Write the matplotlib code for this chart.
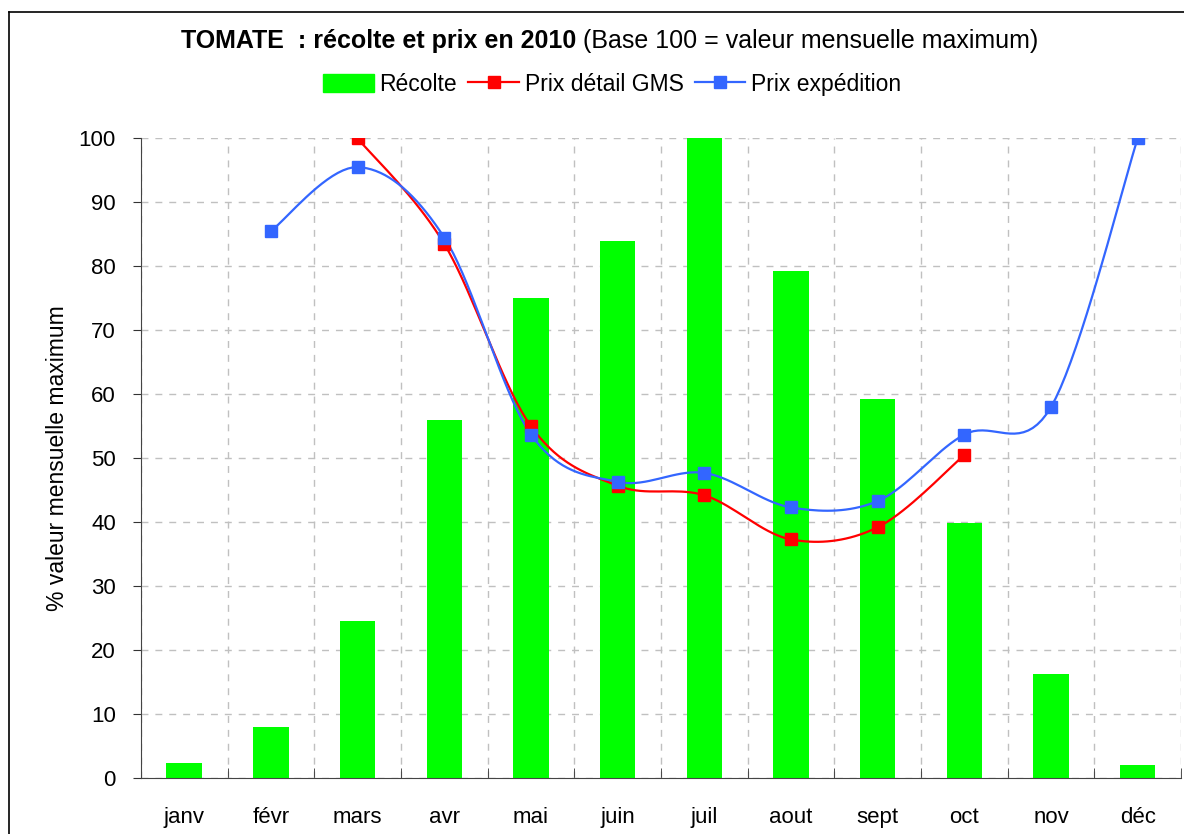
import numpy as np
import matplotlib
matplotlib.use("Agg")
import matplotlib.pyplot as plt
from matplotlib.patches import Patch
from matplotlib.lines import Line2D

plt.rcParams['font.family'] = ['Liberation Sans', 'DejaVu Sans']

# données
mois = ['janv', 'févr', 'mars', 'avr', 'mai', 'juin', 'juil', 'aout', 'sept', 'oct', 'nov', 'déc']
recolte = [2.3, 8.0, 24.5, 56.0, 75.0, 84.0, 100.0, 79.2, 59.2, 39.8, 16.3, 2.0]
prix_gms = [None, None, 100.0, 83.5, 55.0, 45.7, 44.2, 37.3, 39.2, 50.5, None, None]
prix_exp = [None, 85.5, 95.5, 84.5, 53.7, 46.3, 47.7, 42.3, 43.3, 53.7, 58.0, 100.0]

vert = '#00ff00'
rouge = '#ff0000'
bleu = '#3366ff'


def lisse(xs, ys, n=20):
    # courbe lissée type Excel (Catmull-Rom) entre les points
    xs = np.asarray(xs, float)
    ys = np.asarray(ys, float)
    px, py = [], []
    m = len(xs)
    for i in range(m - 1):
        x0, y0 = (xs[i - 1], ys[i - 1]) if i > 0 else (xs[i], ys[i])
        x3, y3 = (xs[i + 2], ys[i + 2]) if i + 2 < m else (xs[i + 1], ys[i + 1])
        x1, y1 = xs[i], ys[i]
        x2, y2 = xs[i + 1], ys[i + 1]
        c1x, c1y = x1 + (x2 - x0) / 6, y1 + (y2 - y0) / 6
        c2x, c2y = x2 - (x3 - x1) / 6, y2 - (y3 - y1) / 6
        t = np.linspace(0, 1, n)
        bx = (1-t)**3*x1 + 3*(1-t)**2*t*c1x + 3*(1-t)*t**2*c2x + t**3*x2
        by = (1-t)**3*y1 + 3*(1-t)**2*t*c1y + 3*(1-t)*t**2*c2y + t**3*y2
        px.extend(bx)
        py.extend(by)
    return px, py


fig = plt.figure(figsize=(11.84, 8.34), dpi=100)
ax = fig.add_axes([0.119, 0.0671, 0.8785, 0.767])

x = np.arange(len(mois))
ax.bar(x, recolte, width=0.41, color=vert, zorder=2)

for serie, col in [(prix_gms, rouge), (prix_exp, bleu)]:
    xi = [i for i, v in enumerate(serie) if v is not None]
    yi = [v for v in serie if v is not None]
    sx, sy = lisse(xi, yi)
    ax.plot(sx, sy, color=col, lw=1.6, zorder=3)
    ax.plot(xi, yi, ls='none', marker='s', ms=8, color=col, zorder=4)

ax.set_xlim(-0.5, len(mois) - 0.5)
ax.set_ylim(0, 100)
ax.set_yticks(range(0, 101, 10))
ax.set_xticks(x)
ax.set_xticklabels(mois, fontsize=16)
ax.set_xticks(np.arange(-0.5, len(mois), 1), minor=True)
ax.tick_params(axis='x', which='major', length=0, pad=21)
ax.tick_params(axis='x', which='minor', length=7, direction='in', color='#333333')
ax.tick_params(axis='y', labelsize=16, length=6, pad=12, color='#333333')
ax.grid(axis='y', ls=(0, (5, 5)), color='#c0c0c0', lw=1, zorder=0)
ax.grid(axis='x', which='minor', ls=(0, (5, 5)), color='#c0c0c0', lw=1, zorder=0)
ax.set_axisbelow(True)
for s in ['top', 'right']:
    ax.spines[s].set_visible(False)
ax.spines['left'].set_color('#444444')
ax.spines['bottom'].set_color('#444444')
ax.set_ylabel('% valeur mensuelle maximum', fontsize=16.5)
ax.yaxis.set_label_coords(-0.069, 0.5)

# titre (partie grasse + partie normale, centrées ensemble)
t1 = fig.text(0, 0.951, 'TOMATE  : récolte et prix en 2010', fontsize=18,
              fontweight='bold', ha='left', va='center')
t2 = fig.text(0, 0.951, ' (Base 100 = valeur mensuelle maximum)', fontsize=18,
              ha='left', va='center')
fig.canvas.draw()
w1 = t1.get_window_extent().width / (fig.dpi * fig.get_figwidth())
w2 = t2.get_window_extent().width / (fig.dpi * fig.get_figwidth())
x0 = 0.515 - (w1 + w2) / 2
t1.set_x(x0)
t2.set_x(x0 + w1)

poignees = [Patch(color=vert, label='Récolte'),
            Line2D([], [], color=rouge, marker='s', ms=8, lw=1.6, label='Prix détail GMS'),
            Line2D([], [], color=bleu, marker='s', ms=8, lw=1.6, label='Prix expédition')]
fig.legend(handles=poignees, loc='center', bbox_to_anchor=(0.517, 0.899), ncol=3,
           frameon=False, fontsize=16.5, handlelength=2.2, handletextpad=0.25,
           columnspacing=0.5, handleheight=0.8)

# cadre
fig.add_artist(Line2D([0.0076, 0.0076], [0, 0.9856], color='black', lw=1.2,
                      transform=fig.transFigure))
fig.add_artist(Line2D([0.0076, 1.0], [0.9856, 0.9856], color='black', lw=1.2,
                      transform=fig.transFigure))

fig.savefig('out.png', dpi=100)
